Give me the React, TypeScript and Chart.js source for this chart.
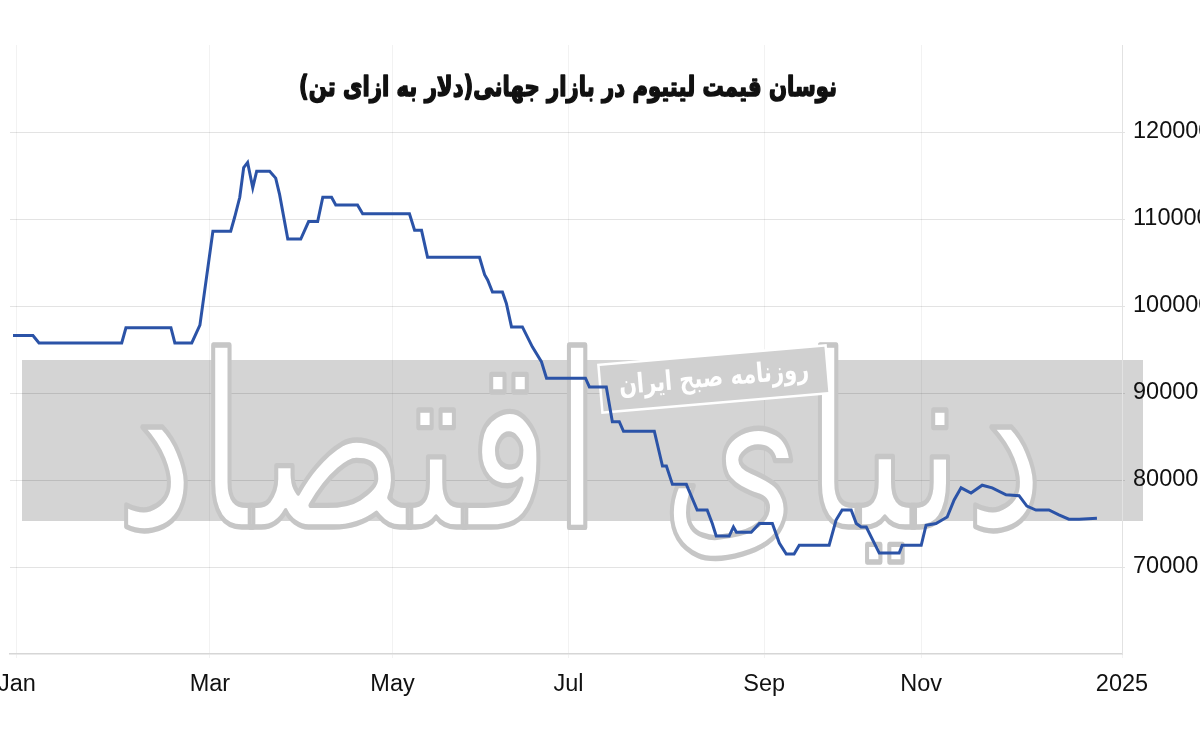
import React, { useEffect, useRef } from "react";
import { Chart, registerables } from "chart.js";

Chart.register(...registerables);

const TITLE = "نوسان قیمت لیتیوم در بازار جهانی(دلار به ازای تن)";
const WATERMARK = "روزنامه صبح ایران";
const LOGO = "دنیای اقتصاد";

// x positions are in days from Jan 1
const monthTickDays = [0, 63.9, 124.4, 182.7, 247.5, 299.5, 366];
const monthTickLabels = ["Jan", "Mar", "May", "Jul", "Sep", "Nov", "2025"];
const priceTicks = [70000, 80000, 90000, 100000, 110000, 120000];

const days = [
  -1.3, 5.3, 7.3, 34.7, 36.1, 51, 52.3, 57.9, 60.6, 64.9, 70.8, 72.1, 73.8, 75.1,
  76.4, 78.1, 79.4, 83.7, 85.7, 87, 89.7, 94, 96.6, 99.6, 101.3, 104.2, 105.6,
  112.8, 114.5, 130, 131.7, 134, 136, 153.2, 154.9, 155.9, 157.5, 160.8, 162.1,
  163.8, 167.4, 170.7, 173.7, 175.4, 188.3, 189.6, 195.2, 197.2, 199.5, 200.9,
  211.1, 213.8, 215.1, 217.1, 221.7, 225.3, 228.6, 230.3, 231.6, 235.9, 237.3,
  238.3, 243.2, 245.9, 250.2, 252.5, 254.8, 257.4, 259.1, 269, 271.3, 273.3,
  276.3, 278, 279.6, 281.3, 285.6, 292.2, 293.2, 299.5, 301.1, 304.4, 306.4,
  308.1, 310.4, 312.7, 316, 319.7, 323, 327.6, 331.9, 334.5, 337.5, 341.8,
  345.1, 348.4, 351.8, 357.7,
];

const prices = [
  96600, 96600, 95750, 95750, 97500, 97500, 95750, 95750, 97800, 108600, 108600,
  110200, 112500, 115900, 116500, 113600, 115500, 115500, 114700, 112800, 107700,
  107700, 109700, 109700, 112500, 112500, 111600, 111600, 110600, 110600, 108700,
  108700, 105600, 105600, 103600, 103000, 101600, 101600, 100300, 97600, 97600,
  95300, 93600, 91700, 91700, 90700, 90700, 86700, 86700, 85600, 85600, 81600,
  81600, 79500, 79500, 76550, 76550, 75000, 73560, 73560, 74600, 74000, 74000,
  75000, 75000, 72760, 71500, 71500, 72500, 72500, 75400, 76550, 76550, 75000,
  74600, 74600, 71600, 71600, 72500, 72500, 74800, 75000, 75400, 75750, 77700,
  79100, 78500, 79400, 79100, 78300, 78200, 77000, 76550, 76550, 76000, 75500,
  75500, 75600,
];

const W = 1200;
const H = 746;

const decorPlugin = {
  id: "decor",
  beforeDraw(chart: any) {
    const { ctx } = chart;
    ctx.save();
    ctx.fillStyle = "#ffffff";
    ctx.fillRect(0, 0, W, H);
    // grey watermark band
    ctx.fillStyle = "#d4d4d4";
    ctx.fillRect(22, 360, 1121, 161);
    ctx.restore();
  },
  beforeDatasetsDraw(chart: any) {
    const { ctx } = chart;
    ctx.save();
    // big outlined logo
    ctx.font = "200px 'DejaVu Sans'";
    ctx.direction = "rtl";
    const m = ctx.measureText(LOGO);
    const sx = 930 / m.width;
    ctx.translate(580, 465);
    ctx.scale(sx, 1.2);
    ctx.textAlign = "center";
    ctx.textBaseline = "middle";
    ctx.lineJoin = "round";
    ctx.strokeStyle = "#c6c6c6";
    ctx.lineWidth = 4 / sx;
    ctx.fillStyle = "#ffffff";
    ctx.fillText(LOGO, 0, 0);
    ctx.strokeText(LOGO, 0, 0);
    ctx.restore();

    // boxed small watermark
    ctx.save();
    ctx.translate(714, 379);
    ctx.rotate(-0.085);
    ctx.fillStyle = "#d0d0d0";
    ctx.fillRect(-114, -24, 228, 48);
    ctx.strokeStyle = "#ffffff";
    ctx.lineWidth = 2.5;
    ctx.strokeRect(-114, -24, 228, 48);
    ctx.fillStyle = "#ffffff";
    ctx.font = "bold 21px 'DejaVu Sans'";
    ctx.direction = "rtl";
    ctx.textAlign = "center";
    ctx.textBaseline = "middle";
    ctx.scale(1, 1.3);
    ctx.fillText(WATERMARK, 0, 0);
    ctx.restore();
  },
  afterDraw(chart: any) {
    const { ctx } = chart;
    ctx.save();
    ctx.font = "bold 28px 'DejaVu Sans'";
    ctx.direction = "rtl";
    const m = ctx.measureText(TITLE);
    const s = 538 / m.width;
    ctx.translate(568, 89);
    ctx.scale(s, s * 1.3);
    ctx.fillStyle = "#111111";
    ctx.strokeStyle = "#111111";
    ctx.lineWidth = 1.6;
    ctx.lineJoin = "round";
    ctx.textAlign = "center";
    ctx.textBaseline = "middle";
    ctx.fillText(TITLE, 0, 0);
    ctx.strokeText(TITLE, 0, 0);
    ctx.restore();
  },
};

export default function App() {
  const ref = useRef<HTMLCanvasElement | null>(null);

  useEffect(() => {
    if (!ref.current) return;
    const points = days.map((d, i) => ({ x: d, y: prices[i] }));
    const chart = new Chart(ref.current, {
      type: "line",
      data: {
        datasets: [
          {
            data: points,
            borderColor: "#2b53a7",
            borderWidth: 3,
            pointRadius: 0,
            tension: 0,
            fill: false,
          },
        ],
      },
      options: {
        responsive: false,
        animation: false,
        events: [],
        layout: { padding: { left: 10, top: 45, right: 0, bottom: 0 } },
        plugins: {
          legend: { display: false },
          title: { display: false },
          tooltip: { enabled: false },
        },
        scales: {
          x: {
            type: "linear",
            min: -2.3,
            max: 366,
            afterBuildTicks: (scale: any) => {
              scale.ticks = monthTickDays.map((v) => ({ value: v }));
            },
            afterFit: (scale: any) => {
              scale.height = 92;
              scale.paddingLeft = 0;
              scale.paddingRight = 0;
            },
            ticks: {
              autoSkip: false,
              maxRotation: 0,
              padding: 12,
              color: "#111111",
              font: { family: "'Liberation Sans', Arial, sans-serif", size: 23.5 },
              callback: (_v: any, i: number) => monthTickLabels[i],
            },
            grid: {
              color: "rgba(0,0,0,0.05)",
              tickLength: 4,
            },
            border: { display: true, color: "#d6d6d6", width: 1.5 },
          },
          y: {
            type: "linear",
            position: "right",
            min: 60000,
            max: 130000,
            afterBuildTicks: (scale: any) => {
              scale.ticks = priceTicks.map((v) => ({ value: v }));
            },
            afterFit: (scale: any) => {
              scale.width = 78;
              scale.paddingTop = 0;
              scale.paddingBottom = 0;
            },
            ticks: {
              padding: 8,
              color: "#111111",
              font: { family: "'Liberation Sans', Arial, sans-serif", size: 23.5 },
              callback: (v: any) => String(v),
            },
            grid: {
              color: "rgba(0,0,0,0.11)",
              tickLength: 3,
            },
            border: { display: true, color: "#e2e2e2" },
          },
        },
      },
      plugins: [decorPlugin],
    });
    return () => chart.destroy();
  }, []);

  return (
    <div
      style={{
        position: "absolute",
        left: 0,
        top: 0,
        width: W,
        height: H,
        overflow: "hidden",
        background: "#fff",
      }}
    >
      <canvas ref={ref} width={W} height={H} style={{ width: W, height: H, display: "block" }} />
    </div>
  );
}
